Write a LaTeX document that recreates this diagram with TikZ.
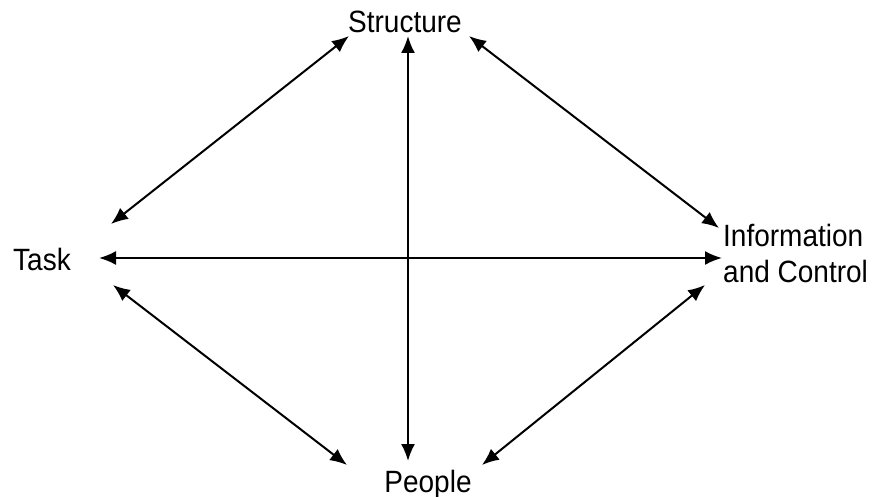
\documentclass[tikz,border=0pt]{standalone}
\usepackage{fontspec}
\setmainfont{Liberation Sans}
\usetikzlibrary{arrows.meta}
\begin{document}
\begin{tikzpicture}[x=1pt,y=-1pt,
  lbl/.style={inner sep=0pt,font=\fontsize{28}{32}\selectfont,yscale=1.1},
  link/.style={line width=2pt,{Latex[length=17pt,width=14pt]}-{Latex[length=17pt,width=14pt]}}]
\useasboundingbox (0,0) rectangle (875,497);
\node[lbl,anchor=base] (structure) at (405,33) {Structure};
\node[lbl,anchor=base west] (task) at (13,270) {Task};
\node[lbl,anchor=base west,align=left] (info) at (723,282) {Information\\and Control};
\node[lbl,anchor=base] (people) at (428,492) {People};
\coordinate (sL) at (349,36);
\coordinate (sC) at (408,36);
\coordinate (sR) at (469,36);
\coordinate (tU) at (111,224);
\coordinate (tC) at (99,258);
\coordinate (tD) at (113,285);
\coordinate (iU) at (719,228);
\coordinate (iC) at (722,258);
\coordinate (iD) at (705,285);
\coordinate (pL) at (347,465);
\coordinate (pC) at (408,461);
\coordinate (pR) at (482,465);
\draw[link] (sL) -- (tU);
\draw[link] (sC) -- (pC);
\draw[link] (sR) -- (iU);
\draw[link] (tC) -- (iC);
\draw[link] (tD) -- (pL);
\draw[link] (pR) -- (iD);
\end{tikzpicture}
\end{document}
